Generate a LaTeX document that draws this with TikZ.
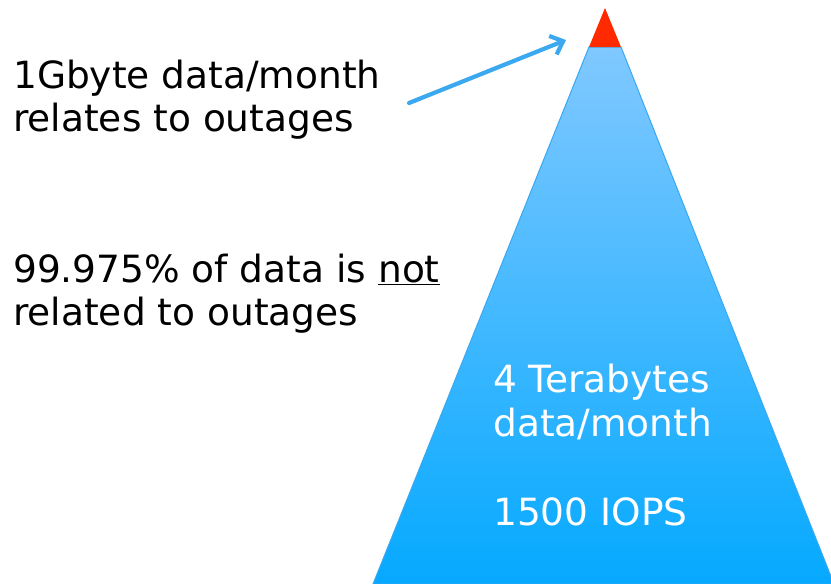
\documentclass[tikz,border=0pt]{standalone}
\usepackage{fontspec}
\setmainfont{DejaVu Sans}
\usetikzlibrary{arrows.meta}
\definecolor{toplight}{HTML}{80C8FF}
\definecolor{botblue}{HTML}{05A9FF}
\definecolor{edgeblue}{HTML}{3AA8F0}
\definecolor{tipred}{HTML}{FF2A00}
\definecolor{arrowblue}{HTML}{3BA8EF}
\tikzset{
  lbl/.style={anchor=base west, inner sep=0pt, font=\fontsize{37.5}{45}\selectfont, text=black},
  wlbl/.style={lbl, text=white},
  pointer/.style={draw=arrowblue, line width=4.2pt, line cap=round, -{Straight Barb[length=11pt,width=20pt,line width=4.2pt]}}
}
\begin{document}
\begin{tikzpicture}[x=1pt,y=-1pt]
\useasboundingbox (0,0) rectangle (831,584);
% pyramid body
\begin{scope}
\clip (0,0) rectangle (831,584);
\shade[top color=toplight, bottom color=botblue, draw=edgeblue, line width=1pt]
  (589,47) -- (621,47) -- (834,584) -- (373,584) -- cycle;
\end{scope}
% red tip
\fill[tipred] (605,8) -- (621,47) -- (589,47) -- cycle;
% left texts
\node[lbl] (t1) at (13,88) {1Gbyte data/month};
\node[lbl] (t2) at (13,131) {relates to outages};
\node[lbl] (t3) at (13,282) {99.975\% of data is \underline{not}};
\node[lbl] (t4) at (13,325) {related to outages};
% pyramid texts
\node[wlbl] (p1) at (493,392) {4 Terabytes};
\node[wlbl] (p2) at (493,436) {data/month};
\node[wlbl] (p3) at (493,525) {1500 IOPS};
% arrow
\coordinate (as) at (409,103);
\coordinate (ae) at (566,40);
\draw[pointer] (as) -- (ae);
\end{tikzpicture}
\end{document}
